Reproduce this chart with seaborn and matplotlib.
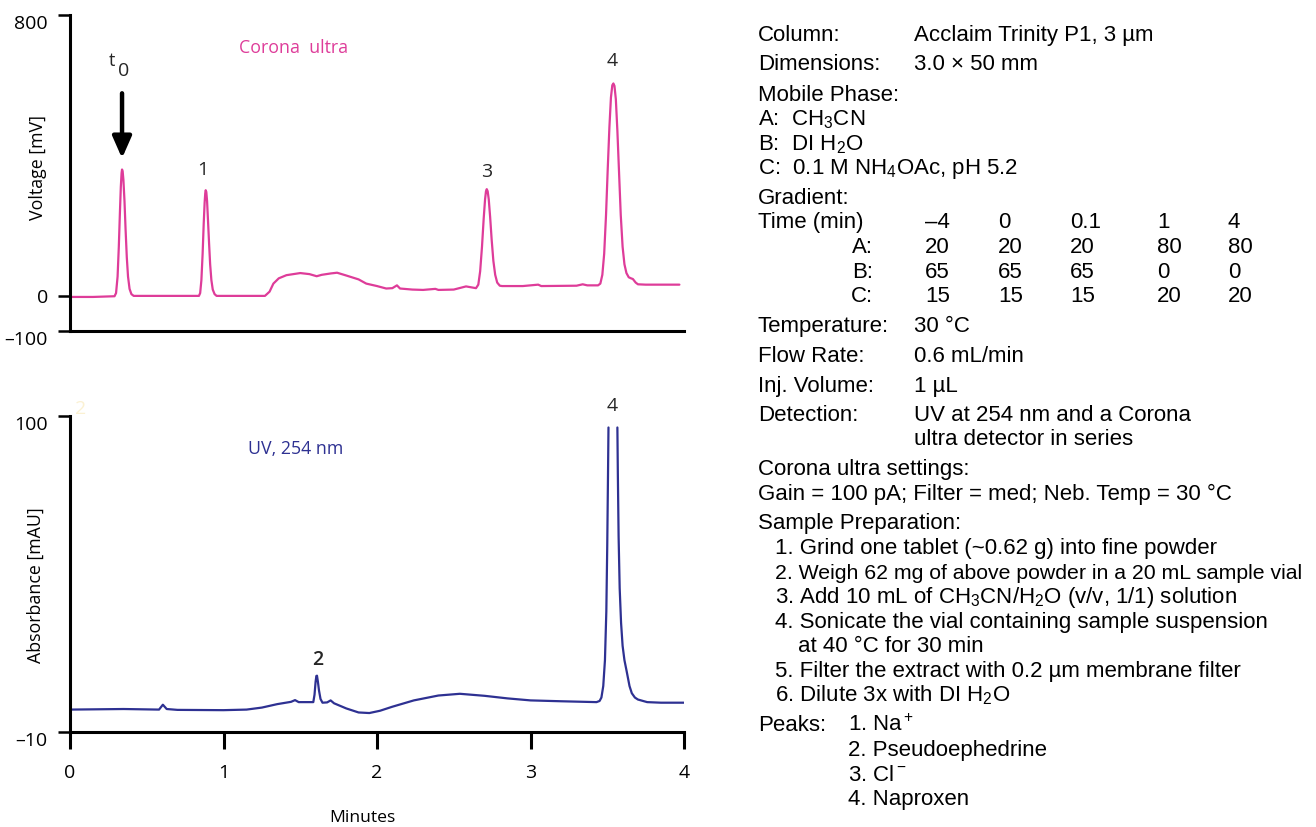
import numpy as np
import pandas as pd
import matplotlib
matplotlib.use("Agg")
import matplotlib.pyplot as plt
import seaborn as sns

# Corona ultra trace (min, mV)
cad_time = [0.00, 0.15, 0.29, 0.30, 0.31, 0.318, 0.325, 0.331, 0.336, 0.339, 0.343, 0.348, 0.355,
            0.362, 0.37, 0.378, 0.388, 0.40, 0.415, 0.50, 0.65, 0.84, 0.848, 0.856, 0.864, 0.871,
            0.877, 0.881, 0.884, 0.888, 0.893, 0.899, 0.906, 0.913, 0.921, 0.93, 0.942, 0.955,
            1.00, 1.15, 1.27, 1.30, 1.325, 1.36, 1.41, 1.50, 1.56, 1.607, 1.64, 1.70, 1.74, 1.80,
            1.88, 1.93, 2.00, 2.06, 2.10, 2.13, 2.15, 2.23, 2.30, 2.38, 2.40, 2.50, 2.58, 2.645,
            2.66, 2.672, 2.684, 2.695, 2.704, 2.71, 2.715, 2.721, 2.728, 2.737, 2.747, 2.758,
            2.77, 2.783, 2.80, 2.815, 2.95, 3.05, 3.07, 3.30, 3.34, 3.37, 3.44, 3.455, 3.468,
            3.48, 3.492, 3.503, 3.514, 3.524, 3.533, 3.54, 3.547, 3.556, 3.566, 3.577, 3.588,
            3.60, 3.612, 3.625, 3.64, 3.655, 3.667, 3.685, 3.70, 3.75, 3.97]
cad_mv = [-3, -3, -1, 8, 55, 140, 235, 310, 350, 360, 355, 330, 270,
          190, 110, 55, 20, 5, 0, 0, 0, 0, 8, 45, 120, 205,
          265, 292, 301, 296, 270, 215, 150, 90, 45, 18, 5, 0,
          0, 0, 0, 12, 35, 50, 59, 65, 62, 56, 60, 64, 66, 58,
          47, 35, 28, 21, 22, 30, 21, 18, 17, 20, 17, 18, 27, 22,
          32, 70, 140, 220, 275, 298, 304, 298, 275, 225, 160, 100,
          60, 38, 29, 28, 28, 32, 28, 29, 33, 30, 30, 35, 60,
          120, 230, 360, 480, 565, 600, 605, 598, 560, 470, 350, 230,
          140, 90, 65, 53, 50, 48, 38, 33, 32, 32]

# UV 254 nm trace (min, mAU); NaN is where the off-scale peak 4 is cut
uv_time = [0.00, 0.35, 0.58, 0.605, 0.63, 0.70, 1.00, 1.15, 1.25, 1.35, 1.44, 1.466, 1.49, 1.585,
           1.593, 1.600, 1.605, 1.609, 1.615, 1.622, 1.632, 1.645, 1.675, 1.698, 1.72, 1.80,
           1.88, 1.95, 2.02, 2.10, 2.24, 2.40, 2.54, 2.70, 2.85, 3.00, 3.20, 3.43, 3.45, 3.462,
           3.474, 3.485, 3.494, 3.500, 3.505, 3.508, 3.54,
           3.566, 3.569, 3.574, 3.581, 3.59, 3.60, 3.612, 3.627, 3.645, 3.66, 3.68, 3.70, 3.76,
           3.85, 4.00]
uv_mau = [-2.2, -2.0, -2.2, -0.5, -2.0, -2.3, -2.4, -2.2, -1.5, -0.3, 0.5, 1.1, 0.4, 0.4,
          3.0, 7.5, 9.5, 9.6, 7.5, 4.5, 1.5, 0.2, 0.3, 1.0, 0.0, -1.8,
          -3.2, -3.4, -2.6, -1.2, 1.0, 2.7, 3.3, 2.6, 1.7, 1.0, 0.7, 0.4, 0.8, 2.0,
          6.0, 15, 32, 55, 80, 96, np.nan,
          96, 80, 58, 40, 28, 20, 15, 11, 6.0, 3.5, 2.0, 1.3, 0.4,
          0.2, 0.2]

# method details for the right-hand panel
column_rows = [("Column:", "Acclaim Trinity P1, 3 µm"), ("Dimensions:", "3.0 × 50 mm")]
mobile_phase = ["A:  CH$_3$CN", "B:  DI H$_2$O", "C:  0.1 M NH$_4$OAc, pH 5.2"]
grad_times = ["–4", "0", "0.1", "1", "4"]
grad_rows = {"A:": [20, 20, 20, 80, 80], "B:": [65, 65, 65, 0, 0], "C:": [15, 15, 15, 20, 20]}
cond_rows = [("Temperature:", "30 °C"), ("Flow Rate:", "0.6 mL/min"),
             ("Inj. Volume:", "1 µL"), ("Detection:", "UV at 254 nm and a Corona")]
corona_settings = "Gain = 100 pA; Filter = med; Neb. Temp = 30 °C"
prep_steps = ["1. Grind one tablet (~0.62 g) into fine powder",
              "2. Weigh 62 mg of above powder in a 20 mL sample vial",
              "3. Add 10 mL of CH$_3$CN/H$_2$O (v/v, 1/1) solution",
              "4. Sonicate the vial containing sample suspension",
              "5. Filter the extract with 0.2 µm membrane filter",
              "6. Dilute 3x with DI H$_2$O"]
peak_names = ["1. Na$^+$", "2. Pseudoephedrine", "3. Cl$^-$", "4. Naproxen"]

pink = "#de3c99"
navy = "#2e3192"

sns.set_theme(style="ticks")
plt.rcParams["font.family"] = ["Open Sans", "DejaVu Sans"]
plt.rcParams["mathtext.fontset"] = "custom"
plt.rcParams["mathtext.rm"] = "Liberation Sans"
plt.rcParams["mathtext.it"] = "Liberation Sans"
plt.rcParams["mathtext.bf"] = "Liberation Sans"

W, H = 1316, 827
fig = plt.figure(figsize=(W / 100, H / 100), dpi=100, facecolor="white")
ax1 = fig.add_axes([70 / W, 1 - 331 / H, 614 / W, 316 / H])
ax2 = fig.add_axes([70 / W, 1 - 732 / H, 614 / W, 316 / H])

cad = pd.DataFrame({"Minutes": cad_time, "mV": cad_mv})
sns.lineplot(data=cad, x="Minutes", y="mV", ax=ax1, color=pink, lw=1.6,
             estimator=None, sort=False)

uv = pd.DataFrame({"Minutes": uv_time, "mAU": uv_mau})
uv["seg"] = uv["mAU"].isna().cumsum()
uv = uv.dropna()
sns.lineplot(data=uv, x="Minutes", y="mAU", units="seg", ax=ax2, color=navy, lw=1.6,
             estimator=None, sort=False)

for ax in (ax1, ax2):
    ax.set_xlim(0, 4)
    sns.despine(ax=ax)
    for side in ("left", "bottom"):
        ax.spines[side].set_linewidth(2.2)
        ax.spines[side].set_color("black")
    ax.tick_params(axis="y", length=9, width=1.8, color="black", labelsize=14, pad=7,
                   labelcolor="black")
    ax.set_facecolor("white")

ax1.set_ylim(-100, 800)
ax1.set_yticks([-100, 0, 800], ["–100", "0", "800"])
ax1.set_xticks([])
ax1.set_xlabel("")
ax1.set_ylabel("Voltage [mV]", fontsize=12.8, color="black")
ax1.yaxis.set_label_coords(-0.038, 0.517)
for lbl in ax1.get_yticklabels():
    if lbl.get_text() != "0":
        lbl.set_va("top")

ax2.set_ylim(-10, 100)
ax2.set_yticks([-10, 100], ["–10", "100"])
for lbl in ax2.get_yticklabels():
    lbl.set_va("top")
ax2.set_xticks([0, 1, 2, 3, 4], ["0", "1", "2", "3", "4"])
ax2.tick_params(axis="x", length=12, width=2.2, color="black", labelsize=14, pad=11,
                labelcolor="black")
ax2.set_ylabel("Absorbance [mAU]", fontsize=12.8, color="black")
ax2.yaxis.set_label_coords(-0.041, 0.465)
ax2.set_xlabel("Minutes", fontsize=12.6, color="black")
ax2.xaxis.set_label_coords(0.476, -0.247)

# chromatogram annotations
ax1.text(1.459, 705, "Corona  ultra", color=pink, fontsize=12.8, ha="center", va="center")
ax1.text(0.270, 669, "t", fontsize=13, ha="center", va="center")
ax1.text(0.352, 640, "0", fontsize=14, ha="center", va="center")
ax1.annotate("", xy=(0.339, 392), xytext=(0.339, 577),
             arrowprops=dict(arrowstyle="-|>,head_length=0.5,head_width=0.22",
                             lw=3.2, color="black", mutation_scale=26, shrinkA=0, shrinkB=0))
for x, y, s in [(0.866, 358, "1"), (2.717, 352, "3"), (3.531, 668, "4")]:
    ax1.text(x, y, s, fontsize=14, ha="center", va="center")

ax2.text(1.47, 88.5, "UV, 254 nm", color=navy, fontsize=12.8, ha="center", va="center")
ax2.text(1.616, 15.2, "2", fontsize=14, ha="center", va="center", fontweight="semibold")
ax2.text(3.531, 103.5, "4", fontsize=14, ha="center", va="center")
ax2.text(0.07, 102.5, "2", fontsize=14, ha="center", va="center", color="#fbf1d2")

# method panel on the right
info = dict(fontsize=16.0, family=["Liberation Sans", "DejaVu Sans"], va="baseline",
            color="black")


def put(px, py, s, **kw):
    fig.text(px / W, 1 - (py + 8) / H, s, **{**info, **kw})


for (lab, val), y in zip(column_rows, [33, 62]):
    put(758, y, lab)
    put(914, y, val)
put(758, 93, "Mobile Phase:")
for s, y in zip(mobile_phase, [117, 142, 166]):
    put(758, y, s)
put(758, 196, "Gradient:")
col_x = [925, 998, 1070, 1157, 1228]
put(758, 220, "Time (min)")
for s, x in zip(grad_times, col_x):
    put(x, 220, s)
for (lab, vals), y in zip(grad_rows.items(), [245, 270, 294]):
    put(873, y, lab, ha="right")
    for v, x in zip(vals, col_x):
        put(x, y, str(v))
for (lab, val), y in zip(cond_rows, [324, 354, 384, 413]):
    put(758, y, lab)
    put(914, y, val)
put(914, 437, "ultra detector in series")
put(758, 467, "Corona ultra settings:")
put(758, 492, corona_settings)
put(758, 521, "Sample Preparation:")
for s, y in zip(prep_steps, [546, 571, 595, 620, 669, 693]):
    put(775, y, s, fontsize=15.3 if s.startswith("2.") else 16.0)
put(798, 644, "at 40 °C for 30 min")
put(758, 723, "Peaks:")
for s, y in zip(peak_names, [723, 748, 773, 797]):
    put(848, y, s)

fig.savefig("out.png", dpi=100, facecolor="white")
